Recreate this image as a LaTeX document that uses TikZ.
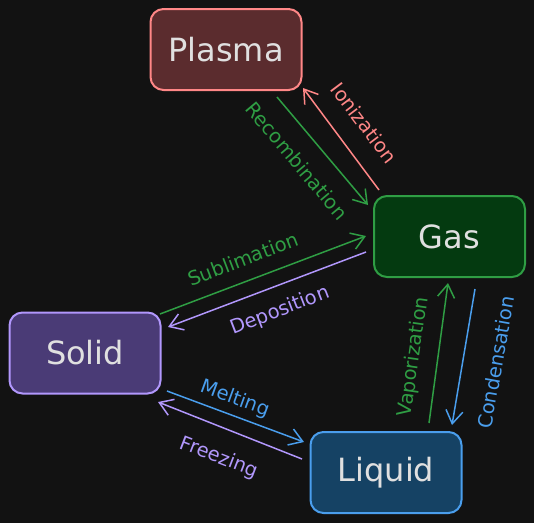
\documentclass[tikz,border=0pt]{standalone}
\usepackage{fontspec}
\setmainfont{DejaVu Sans}
\usetikzlibrary{arrows.meta,calc}
\definecolor{bg}{HTML}{121212}
\definecolor{txt}{HTML}{E0E0E0}
\definecolor{plfill}{HTML}{5B2C2E}
\definecolor{plline}{HTML}{FF8787}
\definecolor{gsfill}{HTML}{043A10}
\definecolor{gsline}{HTML}{2F9E44}
\definecolor{sdfill}{HTML}{4A3B76}
\definecolor{sdline}{HTML}{B197FC}
\definecolor{lqfill}{HTML}{154264}
\definecolor{lqline}{HTML}{4A9EED}
\tikzset{
  statebox/.style={draw, line width=2pt, rounded corners=13pt, minimum width=151pt, minimum height=81pt, text=txt, font=\fontsize{32}{36}\selectfont, inner sep=0pt},
  conn/.style={line width=1.5pt, -{Straight Barb[length=13pt,width=17pt]}},
  lbl/.style={font=\fontsize{19.5}{22}\selectfont, inner sep=0pt}
}
\begin{document}
\begin{tikzpicture}[x=1pt,y=-1pt]
\fill[bg] (0,0) rectangle (534,523);
\useasboundingbox (0,0) rectangle (534,523);

\node[statebox, fill=plfill, draw=plline] (plasma) at (226,49.5) {Plasma};
\node[statebox, fill=gsfill, draw=gsline] (gas) at (449.5,236.5) {Gas};
\node[statebox, fill=sdfill, draw=sdline] (solid) at (85,353) {Solid};
\node[statebox, fill=lqfill, draw=lqline] (liquid) at (386,472.5) {Liquid};

% Plasma <-> Gas
\draw[conn, gsline] ($(plasma.center)+(51,47.5)$) -- ($(gas.center)+(-81.5,-31.5)$);
\draw[conn, plline] ($(gas.center)+(-70.5,-46.5)$) -- ($(plasma.center)+(77,38.5)$);
% Solid <-> Gas
\draw[conn, gsline] ($(solid.center)+(75,-39)$) -- ($(gas.center)+(-83.5,-0.5)$);
\draw[conn, sdline] ($(gas.center)+(-83.5,15.5)$) -- ($(solid.center)+(83,-26)$);
% Solid <-> Liquid
\draw[conn, lqline] ($(solid.center)+(82,38)$) -- ($(liquid.center)+(-82,-30.5)$);
\draw[conn, sdline] ($(liquid.center)+(-84,-13.5)$) -- ($(solid.center)+(73,49)$);
% Liquid <-> Gas
\draw[conn, gsline] ($(liquid.center)+(43,-49.5)$) -- ($(gas.center)+(-1.5,46.5)$);
\draw[conn, lqline] ($(gas.center)+(25.5,52.5)$) -- ($(liquid.center)+(66,-47.5)$);

% labels
\node[lbl, text=gsline, rotate=-50] (lrec) at (297,161) {Recombination};
\node[lbl, text=plline, rotate=-53] (lion) at (364,123) {Ionization};
\node[lbl, text=gsline, rotate=21] (lsub) at (243,259) {Sublimation};
\node[lbl, text=sdline, rotate=21] (ldep) at (280,311) {Deposition};
\node[lbl, text=lqline, rotate=-20] (lmel) at (235,399) {Melting};
\node[lbl, text=sdline, rotate=-21] (lfre) at (219,458) {Freezing};
\node[lbl, text=gsline, rotate=82] (lvap) at (414,357) {Vaporization};
\node[lbl, text=lqline, rotate=80] (lcon) at (496,362) {Condensation};
\end{tikzpicture}
\end{document}
